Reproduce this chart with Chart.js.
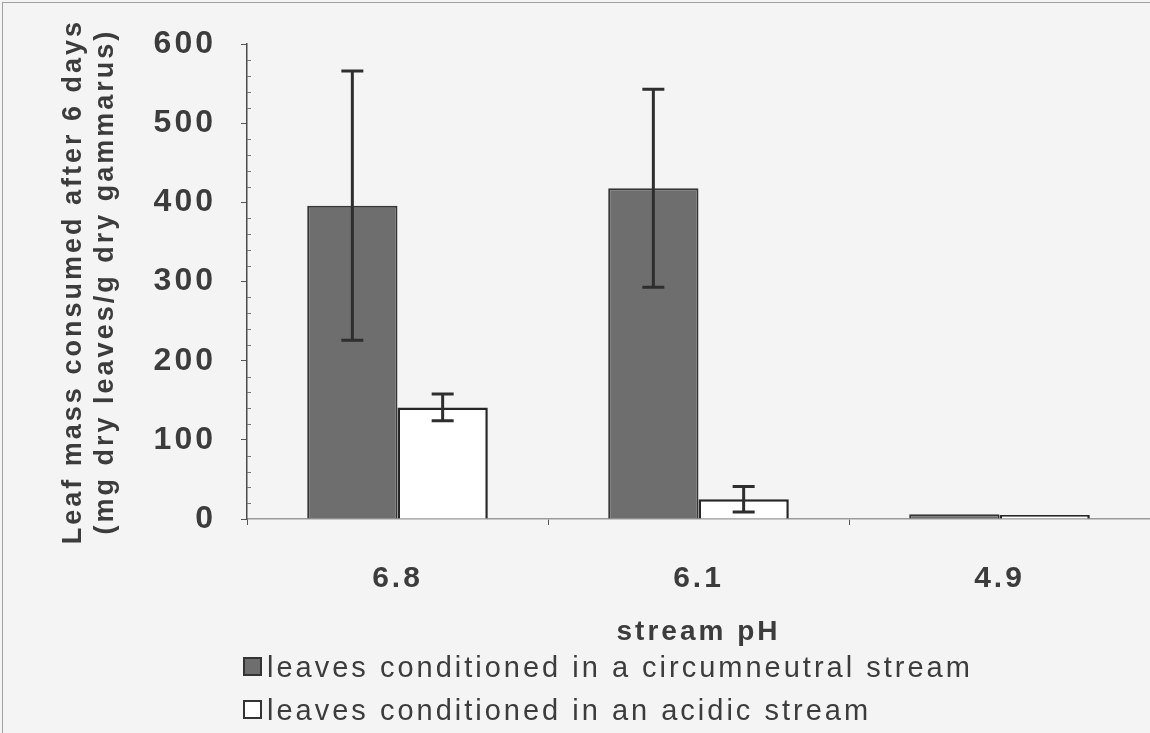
<!DOCTYPE html>
<html>
<head>
<meta charset="utf-8">
<script src="https://cdn.jsdelivr.net/npm/chart.js"></script>
<style>
  body { margin: 0; background: #f4f4f4; }
  #wrap { position: relative; width: 1150px; height: 733px; overflow: hidden; }
  #frame { position: absolute; left: 2px; top: 2px; right: -5px; bottom: -5px; border-top: 1px solid #a0a0a0; border-left: 1px solid #a0a0a0; pointer-events: none; }
  #legend { position: absolute; left: 243px; top: 645px; font-family: "Liberation Sans", Arial, sans-serif; font-size: 29px; letter-spacing: 3px; color: #3c3c3c; }
  .row { height: 43px; line-height: 30px; display: flex; align-items: center; }
  .box { width: 19px; height: 19px; box-sizing: border-box; border: 2px solid #333; margin-right: 5px; }
</style>
</head>
<body>
<div id="wrap">
  <canvas id="myChart" width="1150" height="733"></canvas>
  <div id="frame"></div>
  <div id="legend"></div>
</div>
<script>
//DATOS
const categorias = ["6.8", "6.1", "4.9"];
const nombresSeries = ["leaves conditioned in a circumneutral stream", "leaves conditioned in an acidic stream"];
const circumneutral = [396, 418, 6];
const circumneutralErr = [170, 125, 0];
const acido = [141, 25, 5];
const acidoErr = [17, 16, 0];
const ticksY = [0, 100, 200, 300, 400, 500, 600];

const colores = ["#6e6e6e", "#ffffff"];

//PLUGINS
const espaciado = {
  id: "espaciado",
  beforeUpdate(chart) { chart.ctx.letterSpacing = "3px"; },
  beforeDraw(chart) { chart.ctx.letterSpacing = "3px"; },
};

const barrasError = {
  id: "barrasError",
  afterDatasetsDraw(chart) {
    const ctx = chart.ctx;
    const y = chart.scales.y;
    const errores = [circumneutralErr, acidoErr];
    ctx.save();
    ctx.strokeStyle = "#2e2e2e";
    ctx.lineWidth = 3;
    chart.data.datasets.forEach((ds, i) => {
      chart.getDatasetMeta(i).data.forEach((bar, j) => {
        const e = errores[i][j];
        if (!e) return;
        const v = ds.data[j];
        const top = y.getPixelForValue(v + e);
        const bot = y.getPixelForValue(v - e);
        ctx.beginPath();
        ctx.moveTo(bar.x, top);
        ctx.lineTo(bar.x, bot);
        ctx.moveTo(bar.x - 11, top);
        ctx.lineTo(bar.x + 11, top);
        ctx.moveTo(bar.x - 11, bot);
        ctx.lineTo(bar.x + 11, bot);
        ctx.stroke();
      });
    });
    ctx.restore();
  },
};

const ticksMenores = {
  id: "ticksMenores",
  afterDraw(chart) {
    const ctx = chart.ctx;
    const y = chart.scales.y;
    const x0 = chart.chartArea.left;
    ctx.save();
    ctx.strokeStyle = "#777";
    ctx.lineWidth = 1;
    for (let v = 20; v < 600; v += 20) {
      if (v % 100 === 0) continue;
      const py = Math.round(y.getPixelForValue(v)) + 0.5;
      ctx.beginPath();
      ctx.moveTo(x0, py);
      ctx.lineTo(x0 + 4, py);
      ctx.stroke();
    }
    ctx.restore();
  },
};

//GRAFICO
const data = {
  labels: categorias,
  datasets: [
    {
      label: nombresSeries[0],
      data: circumneutral,
      backgroundColor: colores[0],
      borderColor: "#363636",
      borderWidth: 2,
    },
    {
      label: nombresSeries[1],
      data: acido,
      backgroundColor: colores[1],
      borderColor: "#262626",
      borderWidth: 2.5,
    },
  ],
};

const fuente = '"Liberation Sans", Arial, sans-serif';

const config = {
  type: "bar",
  data: data,
  plugins: [espaciado, barrasError, ticksMenores],
  options: {
    responsive: false,
    animation: false,
    devicePixelRatio: 1,
    layout: { padding: { top: 40, right: 0, bottom: 0, left: 0 } },
    datasets: { bar: { categoryPercentage: 0.6, barPercentage: 1 } },
    plugins: {
      legend: { display: false },
      tooltip: { enabled: false },
    },
    scales: {
      x: {
        grid: { drawOnChartArea: false, tickLength: 6, color: "#555", offset: true },
        border: { color: "#9a9a9a", width: 1.5 },
        ticks: {
          color: "#3c3c3c",
          padding: 36,
          maxRotation: 0,
          font: { family: fuente, size: 30, weight: "bold" },
        },
        title: {
          display: true,
          text: "stream pH",
          color: "#3c3c3c",
          font: { family: fuente, size: 28, weight: "bold" },
          padding: { top: 0, bottom: 84 },
        },
        afterFit(scale) { scale.height = 214; },
      },
      y: {
        min: 0,
        max: 600,
        afterBuildTicks(scale) { scale.ticks = ticksY.map((v) => ({ value: v })); },
        grid: { drawOnChartArea: false, tickLength: 6, color: "#555" },
        border: { color: "#4a4a4a", width: 1.5 },
        ticks: {
          color: "#3c3c3c",
          padding: 25,
          font: { family: fuente, size: 32, weight: "bold" },
        },
        title: {
          display: true,
          text: ["Leaf mass consumed after 6 days", "(mg dry leaves/g dry gammarus)"],
          color: "#3c3c3c",
          font: { family: fuente, size: 27, weight: "bold", lineHeight: 1.2 },
          padding: { top: 57, bottom: 0 },
        },
        afterFit(scale) { scale.width = 247; },
      },
    },
  },
};

const myChart = new Chart(document.getElementById("myChart"), config);

//LEYENDA
let texto = "";
for (var i = 0; i < nombresSeries.length; i++) {
  texto += `
    <div class="row">
      <div class="box" style="background:${colores[i]}"></div>
      <span>${nombresSeries[i]}</span>
    </div>`;
}
document.getElementById("legend").innerHTML = texto;
</script>
</body>
</html>
